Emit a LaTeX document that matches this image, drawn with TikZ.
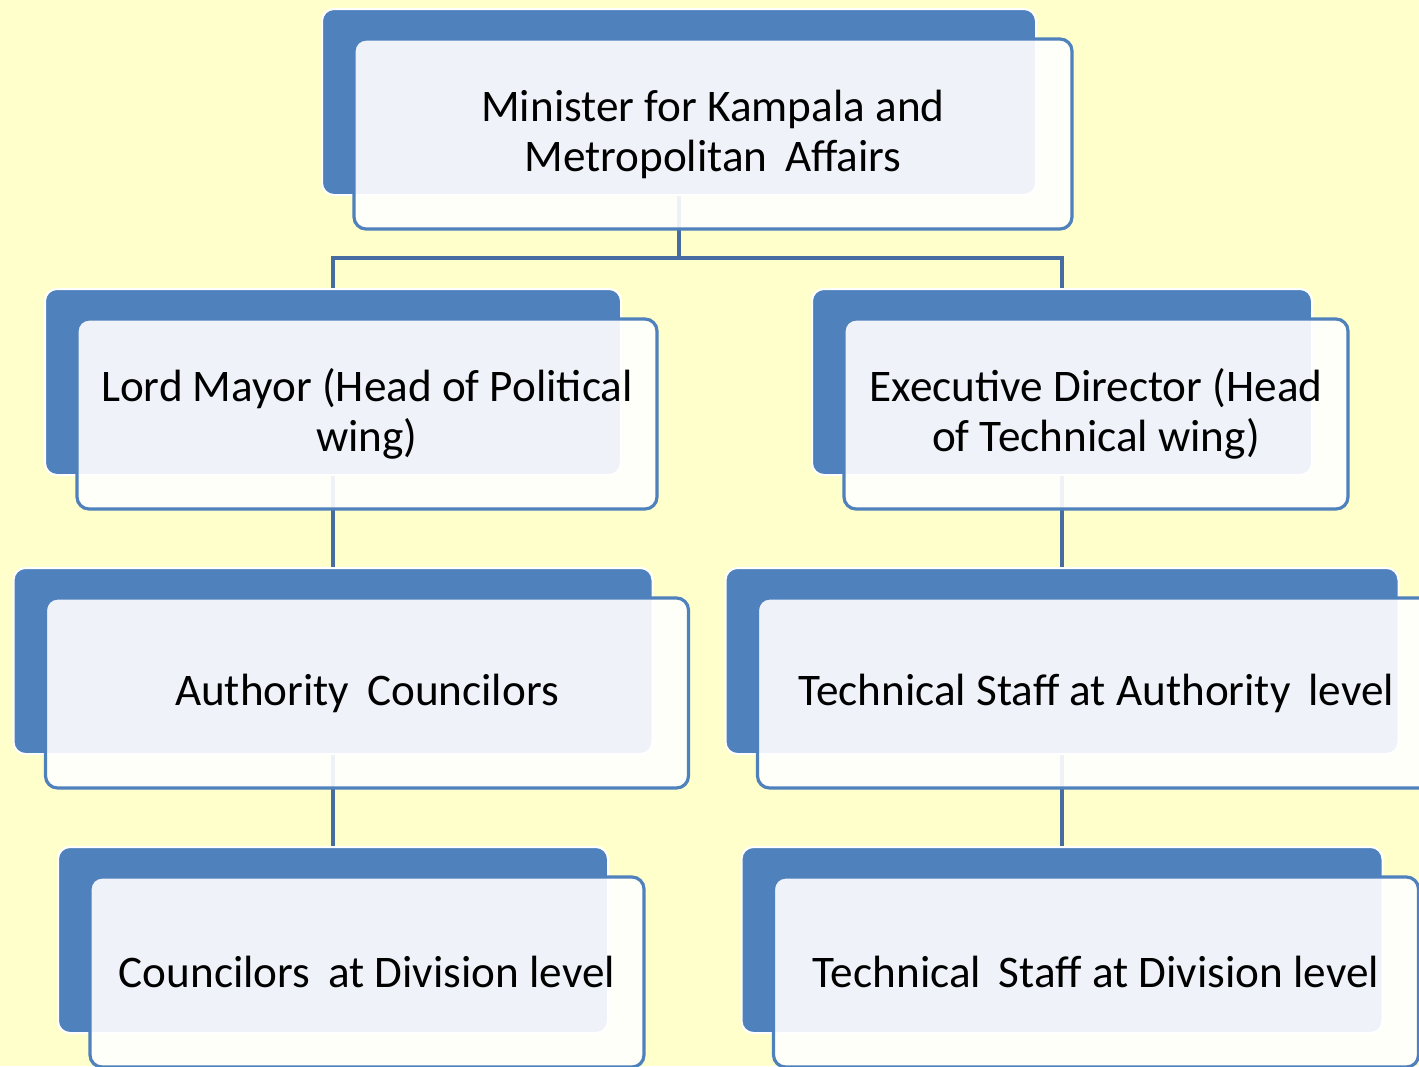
\documentclass[tikz,border=0pt]{standalone}
\usepackage{fontspec}
\setmainfont{Carlito}
\definecolor{bgyellow}{HTML}{FFFFCC}
\definecolor{boxblue}{HTML}{4F81BD}
\definecolor{linkblue}{HTML}{466CA2}
\tikzset{
  back/.style={draw=white, line width=1pt, fill=boxblue, rounded corners=6pt,
    minimum height=93pt, inner sep=0pt},
  front/.style={draw=boxblue, line width=1.6pt, fill=white, fill opacity=0.91,
    text opacity=1, rounded corners=6pt, minimum height=95pt, inner sep=0pt,
    align=center, font=\fontsize{22.6}{25}\selectfont},
  link/.style={draw=linkblue, line width=1.6pt}
}
\begin{document}
\begin{tikzpicture}[x=0.5pt,y=-0.5pt]
\fill[bgyellow] (0,0) rectangle (1419,1066);
\useasboundingbox (0,0) rectangle (1419,1066);

\node[back, minimum width=357pt] (a1) at (679,102) {};
\node[back, minimum width=288pt] (b1) at (333,382) {};
\node[back, minimum width=250pt] (c1) at (1062,382) {};
\node[back, minimum width=319.5pt] (d1) at (333,661) {};
\node[back, minimum width=336.5pt] (e1) at (1062,661) {};
\node[back, minimum width=275pt] (f1) at (333,940) {};
\node[back, minimum width=320.5pt] (g1) at (1062,940) {};

\coordinate (j) at (679,258);
\path[link] (a1.south) -- (j);
\path[link] (j) -| (b1.north);
\path[link] (j) -| (c1.north);
\path[link] (b1.south) -- (d1.north);
\path[link] (d1.south) -- (f1.north);
\path[link] (c1.south) -- (e1.north);
\path[link] (e1.south) -- (g1.north);

\node[front, minimum width=359pt] (a2) at (679+34,102+32) {Minister for Kampala and\\Metropolitan\, Affairs};
\node[front, minimum width=290pt] (b2) at (333+34,382+32) {Lord Mayor (Head of Political\\wing)};
\node[front, minimum width=252pt] (c2) at (1062+34,382+32) {Executive Director (Head\\of Technical wing)};
\node[front, minimum width=321.5pt] (d2) at (333+34,661+32) {Authority\, Councilors};
\node[front, minimum width=338.5pt] (e2) at (1062+34,661+32) {Technical Staff at Authority\, level};
\node[front, minimum width=277pt] (f2) at (333+34,940+32) {Councilors\, at Division level};
\node[front, minimum width=322.5pt] (g2) at (1062+34,940+32) {Technical\, Staff at Division level};
\end{tikzpicture}
\end{document}
